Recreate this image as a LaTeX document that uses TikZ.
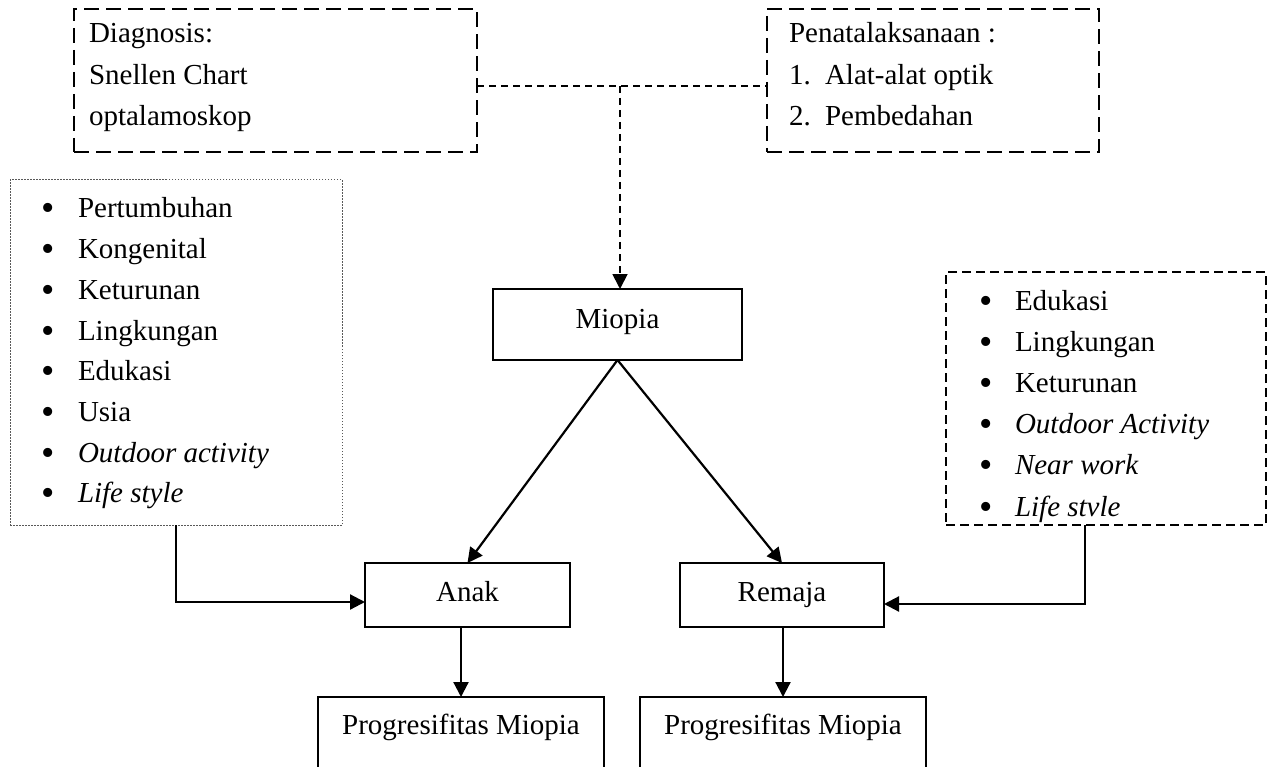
\documentclass[tikz,border=0pt]{standalone}
\usepackage{fontspec}
\setmainfont{Liberation Serif}
\usetikzlibrary{arrows.meta}
\newcommand{\bul}{\makebox[0pt][c]{\raisebox{-3pt}{\fontsize{38}{38}\selectfont\textbullet}}}
\begin{document}
\begin{tikzpicture}[x=1pt,y=-1pt,
  every node/.style={font=\fontsize{29}{41}\selectfont, inner sep=0pt, outer sep=0pt},
  solidbox/.style={draw, line width=1.7pt},
  dashbox/.style={draw, line width=2pt, dash pattern=on 15pt off 7pt},
  dashboxsmall/.style={draw, line width=2pt, dash pattern=on 9pt off 5pt},
  dotbox/.style={draw=black!65, line width=1pt, dash pattern=on 1.5pt off 1.5pt},
  flow/.style={line width=2.2pt, -{Triangle[length=15pt,width=15pt]}},
  dflow/.style={line width=1.8pt, dash pattern=on 7pt off 5pt},
  dflowarrow/.style={dflow, -{Triangle[length=15pt,width=15pt]}},
  txt/.style={anchor=base west},
  bulx/.style={anchor=base},
]
\useasboundingbox (0,0) rectangle (1273,767);
\clip (0,0) rectangle (1273,767);

% top boxes
\node[dashbox, minimum width=403pt, minimum height=143pt, anchor=north west] (diag) at (74,9) {};
\node[txt] (d1) at (89,43) {Diagnosis:};
\node[txt] (d2) at (89,85) {Snellen Chart};
\node[txt] (d3) at (89,126) {optalamoskop};

\node[dashbox, minimum width=332pt, minimum height=143pt, anchor=north west] (pen) at (767,9) {};
\node[txt] (p0) at (789,43) {Penatalaksanaan :};
\node[txt] (pn1) at (789,85) {1.};
\node[txt] (pt1) at (825,85) {Alat-alat optik};
\node[txt] (pn2) at (789,126) {2.};
\node[txt] (pt2) at (825,126) {Pembedahan};

% left factor box
\node[dotbox, minimum width=332pt, minimum height=345pt, anchor=north west] (lbox) at (10,180) {};
\foreach \t [count=\i] in {Pertumbuhan,Kongenital,Keturunan,Lingkungan,Edukasi,Usia,\textit{Outdoor activity},\textit{Life style}}{
  \node[bulx] (lb\i) at (48,{218+40.7*(\i-1)}) {\bul};
  \node[txt] (lt\i) at (78,{218+40.7*(\i-1)}) {\t};
}

% right factor box
\node[dashboxsmall, minimum width=320pt, minimum height=253pt, anchor=north west] (rbox) at (946,272) {};
\foreach \t [count=\i] in {Edukasi,Lingkungan,Keturunan,\textit{Outdoor Activity},\textit{Near work},\textit{Life stvle}}{
  \node[bulx] (rb\i) at (986,{310+41.2*(\i-1)}) {\bul};
  \node[txt] (rt\i) at (1015,{310+41.2*(\i-1)}) {\t};
}

% central boxes
\node[solidbox, minimum width=249pt, minimum height=71pt, anchor=north west] (miopia) at (493,289) {};
\node[anchor=base] (miopiaT) at (617.5,328) {Miopia};

\node[solidbox, minimum width=205pt, minimum height=64pt, anchor=north west] (anak) at (365,563) {};
\node[anchor=base] (anakT) at (467.5,601) {Anak};
\node[solidbox, minimum width=204pt, minimum height=64pt, anchor=north west] (remaja) at (680,563) {};
\node[anchor=base] (remajaT) at (782,601) {Remaja};

\node[solidbox, minimum width=286pt, minimum height=110pt, anchor=north west] (prog1) at (318,697) {};
\node[anchor=base] (prog1T) at (461,734) {Progresifitas Miopia};
\node[solidbox, minimum width=286pt, minimum height=110pt, anchor=north west] (prog2) at (640,697) {};
\node[anchor=base] (prog2T) at (783,734) {Progresifitas Miopia};

% dashed connectors
\coordinate (junc) at (620,86);
\draw[dflow] (diag.east |- junc) -- (pen.west |- junc);
\draw[dflowarrow] (junc) -- (junc |- miopia.north);

% solid connectors
\draw[flow] (miopia.south) -- (anak.north);
\draw[flow] (miopia.south) -- (remaja.north);
\draw[flow] (anak.south -| prog1.north) -- (prog1.north);
\draw[flow] (remaja.south -| prog2.north) -- (prog2.north);

\coordinate (lturn) at (176,602);
\draw[flow] (lbox.south -| lturn) -- (lturn) -- (anak.west |- lturn);
\coordinate (rturn) at (1085,604);
\draw[flow] (rbox.south -| rturn) -- (rturn) -- (remaja.east |- rturn);
\end{tikzpicture}
\end{document}
